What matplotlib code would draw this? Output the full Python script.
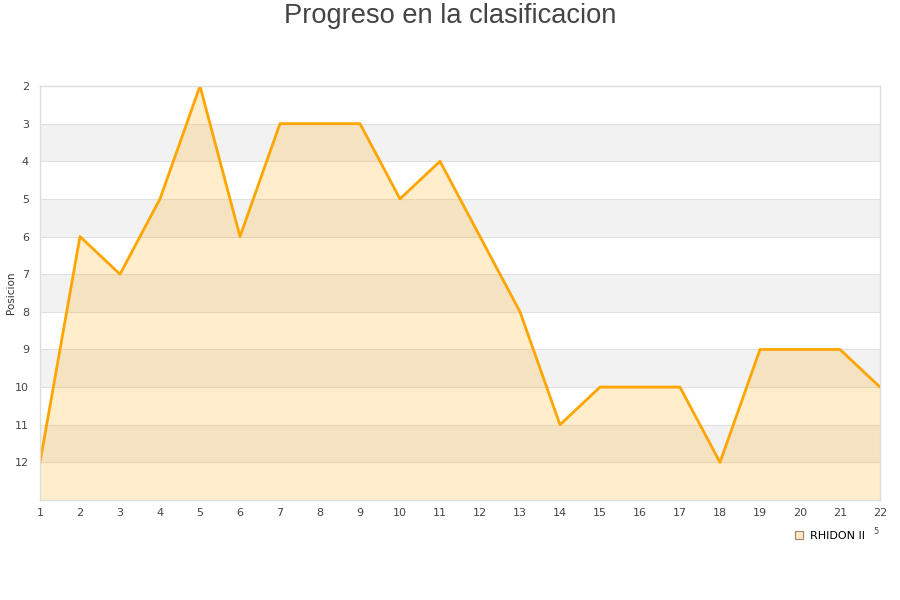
import matplotlib
matplotlib.use("Agg")
import matplotlib.pyplot as plt
from matplotlib.lines import Line2D

jornadas = list(range(1, 23))
posiciones = [12, 6, 7, 5, 2, 6, 3, 3, 3, 5, 4, 6, 8, 11, 10, 10, 10, 12, 9, 9, 9, 10]
y_ticks = list(range(2, 13))
equipo = "RHIDON II"
titulo = "Progreso en la clasificacion"

fig = plt.figure(figsize=(9, 6), dpi=100)
ax = fig.add_axes([40/900, 1-500/600, 840/900, 414/600])

ax.set_xlim(1, 22)
ax.set_ylim(13, 2)

# alternating bands
for y0 in range(2, 13):
    if (y0 - 2) % 2 == 1:
        ax.axhspan(y0, y0 + 1, color="#f2f2f2", zorder=0, lw=0)
for y0 in range(3, 13):
    ax.axhline(y0, color="#e0e0e0", lw=0.8, zorder=0.5)

ax.fill_between(jornadas, posiciones, 13, color="#ffa500", alpha=0.2, lw=0, zorder=1)
ax.plot(jornadas, posiciones, color="#ffa500", lw=2, zorder=2)

ax.set_xticks(jornadas)
ax.set_yticks(y_ticks)
ax.tick_params(axis="both", length=0, labelsize=8, colors="#444444")
ax.tick_params(axis="x", pad=6)
ax.tick_params(axis="y", pad=8)
for s in ax.spines.values():
    s.set_color("#dddddd")
    s.set_linewidth(1)

fig.text(11/900, 1-293/600, "Posicion", fontsize=7.5, color="#333333",
         rotation=90, ha="center", va="center")
fig.text(0.5, 1-16/600, titulo, ha="center", va="center", fontsize=19.6,
         color="#444444", family="Liberation Sans")

handle = Line2D([], [], marker="s", linestyle="none", markersize=6,
                markerfacecolor="#fde9c8", markeredgecolor="#a08060", markeredgewidth=0.8)
fig.legend([handle], [equipo], loc="center left", bbox_to_anchor=(788/900, 1-536/600),
           frameon=False, fontsize=8, handletextpad=0.5, borderpad=0, handlelength=1)
fig.text(873/900, 1-531/600, "5", fontsize=6, color="#444444", ha="left", va="center")

fig.savefig("out.png", dpi=100)
